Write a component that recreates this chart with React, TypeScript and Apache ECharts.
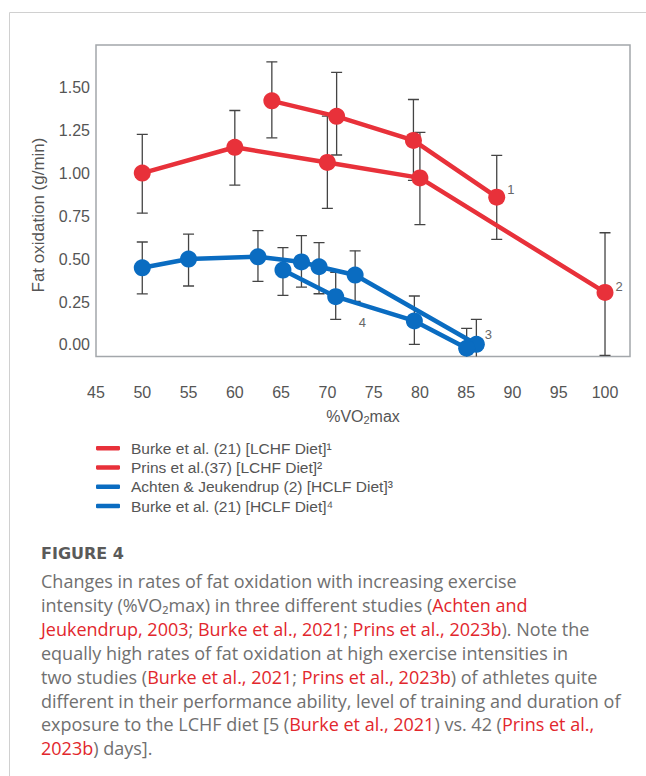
import React, { useEffect, useRef } from "react";
import * as echarts from "echarts";

// ---- data ----
const xTicks = [45, 50, 55, 60, 65, 70, 75, 80, 85, 90, 95, 100];
const yTicks = [0, 0.25, 0.5, 0.75, 1.0, 1.25, 1.5];

const burkeLchfName = "Burke et al. (21) [LCHF Diet]\u00b9";
const burkeLchfX = [64, 71, 79.3, 88.3];
const burkeLchfY = [1.42, 1.33, 1.19, 0.86];
const burkeLchfLow = [1.205, 1.105, 0.958, 0.614];
const burkeLchfHigh = [1.647, 1.586, 1.428, 1.103];

const prinsName = "Prins et al.(37) [LCHF Diet]\u00b2";
const prinsX = [50, 60, 70, 80, 100];
const prinsY = [1.0, 1.15, 1.062, 0.972, 0.306];
const prinsLow = [0.767, 0.93, 0.795, 0.7, -0.06];
const prinsHigh = [1.225, 1.364, 1.331, 1.237, 0.653];

const achtenName = "Achten & Jeukendrup (2) [HCLF Diet]\u00b3";
const achtenX = [50, 55, 62.5, 67.2, 69.1, 73, 86.1];
const achtenY = [0.449, 0.5, 0.513, 0.483, 0.455, 0.407, 0.004];
const achtenLow = [0.297, 0.343, 0.37, 0.337, 0.298, 0.254, -0.14];
const achtenHigh = [0.599, 0.645, 0.665, 0.636, 0.595, 0.548, 0.149];

const burkeHclfName = "Burke et al. (21) [HCLF Diet]\u2074";
const burkeHclfX = [65.2, 70.9, 79.4, 85.05];
const burkeHclfY = [0.436, 0.281, 0.14, -0.019];
const burkeHclfLow = [0.289, 0.149, 0.004, -0.135];
const burkeHclfHigh = [0.566, 0.423, 0.285, 0.097];

const captionTitle = "FIGURE 4";
// [text, isReference]
const captionLines: [string, boolean][][] = [
  [["Changes in rates of fat oxidation with increasing exercise", false]],
  [["intensity (%VO\u2082max) in three different studies (", false], ["Achten and", true]],
  [["Jeukendrup, 2003", true], ["; ", false], ["Burke et al., 2021", true], ["; ", false], ["Prins et al., 2023b", true], ["). Note the", false]],
  [["equally high rates of fat oxidation at high exercise intensities in", false]],
  [["two studies (", false], ["Burke et al., 2021", true], ["; ", false], ["Prins et al., 2023b", true], [") of athletes quite", false]],
  [["different in their performance ability, level of training and duration of", false]],
  [["exposure to the LCHF diet [5 (", false], ["Burke et al., 2021", true], [") vs. 42 (", false], ["Prins et al.,", true]],
  [["2023b", true], [") days].", false]],
];

const RED = "#e8313a";
const BLUE = "#0a6cc1";
const FONT = "'Liberation Sans', Arial, sans-serif";
const CAP_FONT = "'Open Sans', 'Noto Sans', sans-serif";
const TITLE_FONT = "'DejaVu Sans', sans-serif";
const TEXT = "#555";

export default function App() {
  const ref = useRef<HTMLDivElement>(null);

  useEffect(() => {
    if (!ref.current) return;
    const chart = echarts.init(ref.current, undefined, { renderer: "svg" });

    const lineSeries = (
      name: string,
      xs: number[],
      ys: number[],
      color: string,
      labels: Record<number, any>
    ) => ({
      type: "line",
      name,
      z: 3,
      symbol: "circle",
      symbolSize: 17,
      showSymbol: true,
      lineStyle: { width: 4.5, color },
      itemStyle: { color },
      data: xs.map((x, i) => {
        const item: any = { value: [x, ys[i]] };
        if (labels[i]) item.label = labels[i];
        return item;
      }),
    });

    const errSeries = (xs: number[], lows: number[], highs: number[]) => ({
      type: "custom",
      z: 2,
      clip: true,
      silent: true,
      encode: { x: 0, y: [1, 2] },
      data: xs.map((x, i) => [x, lows[i], highs[i]]),
      renderItem: (params: any, api: any) => {
        const x = api.value(0);
        const lo = api.coord([x, api.value(1)]);
        const hi = api.coord([x, api.value(2)]);
        const h = 5.5;
        const st = { stroke: "#444", lineWidth: 1.3 };
        return {
          type: "group",
          children: [
            { type: "line", shape: { x1: lo[0], y1: lo[1], x2: hi[0], y2: hi[1] }, style: st },
            { type: "line", shape: { x1: lo[0] - h, y1: lo[1], x2: lo[0] + h, y2: lo[1] }, style: st },
            { type: "line", shape: { x1: hi[0] - h, y1: hi[1], x2: hi[0] + h, y2: hi[1] }, style: st },
          ],
        };
      },
    });

    const annot = (text: string, extra: any) => ({
      show: true,
      formatter: text,
      color: "#666",
      fontSize: 13,
      fontFamily: FONT,
      ...extra,
    });

    const captionGraphics: any[] = [];
    captionGraphics.push({
      type: "text",
      x: 41,
      y: 553,
      style: {
        text: captionTitle,
        font: `bold 16px ${TITLE_FONT}`,
        fill: "#5a5a5a",
        verticalAlign: "middle",
      },
    });
    captionLines.forEach((segs, li) => {
      captionGraphics.push({
        type: "text",
        x: 41,
        y: 581 + li * 23.9,
        style: {
          text: segs.map(([t, r]) => `{${r ? "r" : "g"}|${t}}`).join(""),
          verticalAlign: "middle",
          font: `18px ${CAP_FONT}`,
          rich: {
            g: { fill: "#707070", fontSize: 18, fontFamily: CAP_FONT },
            r: { fill: "#e2272d", fontSize: 18, fontFamily: CAP_FONT },
          },
        },
      });
    });

    chart.setOption({
      animation: false,
      backgroundColor: "#fff",
      grid: {
        left: 96,
        top: 45,
        width: 534,
        height: 311.5,
        show: true,
        borderColor: "#a3a7ab",
        borderWidth: 1.5,
        backgroundColor: "transparent",
      },
      xAxis: {
        type: "value",
        min: 45,
        max: 102.7,
        axisLine: { show: false, onZero: false },
        axisTick: { show: false },
        splitLine: { show: false },
        axisLabel: {
          customValues: xTicks,
          margin: 28,
          fontSize: 16,
          color: TEXT,
          fontFamily: FONT,
        },
        name: "%VO{sub|2}max",
        nameLocation: "middle",
        nameGap: 50,
        nameTextStyle: {
          fontSize: 16,
          color: TEXT,
          fontFamily: FONT,
          rich: {
            sub: { fontSize: 11, color: TEXT, fontFamily: FONT, padding: [8, 0, 0, 0] },
          },
        },
      },
      yAxis: {
        type: "value",
        min: -0.067,
        max: 1.745,
        axisLine: { show: false, onZero: false },
        axisTick: { show: false },
        splitLine: { show: false },
        axisLabel: {
          customValues: yTicks,
          formatter: (v: number) => v.toFixed(2),
          margin: 6,
          fontSize: 16,
          color: TEXT,
          fontFamily: FONT,
        },
      },
      legend: {
        data: [burkeLchfName, prinsName, achtenName, burkeHclfName],
        orient: "vertical",
        left: 96,
        top: 438.5,
        padding: 0,
        itemGap: 0,
        itemWidth: 24,
        itemHeight: 4.5,
        icon: "roundRect",
        textStyle: {
          fontSize: 15.5,
          lineHeight: 19.3,
          color: TEXT,
          fontFamily: FONT,
          padding: [0, 0, 0, 6],
        },
      },
      series: [
        errSeries(burkeLchfX, burkeLchfLow, burkeLchfHigh),
        errSeries(prinsX, prinsLow, prinsHigh),
        errSeries(achtenX, achtenLow, achtenHigh),
        errSeries(burkeHclfX, burkeHclfLow, burkeHclfHigh),
        lineSeries(burkeLchfName, burkeLchfX, burkeLchfY, RED, {
          3: annot("1", { position: "right", distance: 2, offset: [0, -8] }),
        }),
        lineSeries(prinsName, prinsX, prinsY, RED, {
          4: annot("2", { position: "right", distance: 2, offset: [0, -6] }),
        }),
        lineSeries(achtenName, achtenX, achtenY, BLUE, {
          6: annot("3", { position: "right", distance: 0, offset: [0, -10] }),
        }),
        lineSeries(burkeHclfName, burkeHclfX, burkeHclfY, BLUE, {
          2: annot("4", { position: "left", distance: 40, offset: [0, 2] }),
        }),
      ],
      graphic: [
        {
          type: "line",
          shape: { x1: 9.5, y1: 12.5, x2: 646, y2: 12.5 },
          style: { stroke: "#d0d0d0", lineWidth: 1 },
        },
        {
          type: "line",
          shape: { x1: 9.5, y1: 12.5, x2: 9.5, y2: 776 },
          style: { stroke: "#d0d0d0", lineWidth: 1 },
        },
        {
          type: "text",
          x: 38,
          y: 215,
          rotation: Math.PI / 2,
          style: {
            text: "Fat oxidation (g/min)",
            font: `17px ${FONT}`,
            fill: TEXT,
            align: "center",
            verticalAlign: "middle",
          },
        },
        ...captionGraphics,
      ],
    });

    return () => chart.dispose();
  }, []);

  return (
    <div
      ref={ref}
      style={{ position: "absolute", left: 0, top: 0, width: 646, height: 776 }}
    />
  );
}
